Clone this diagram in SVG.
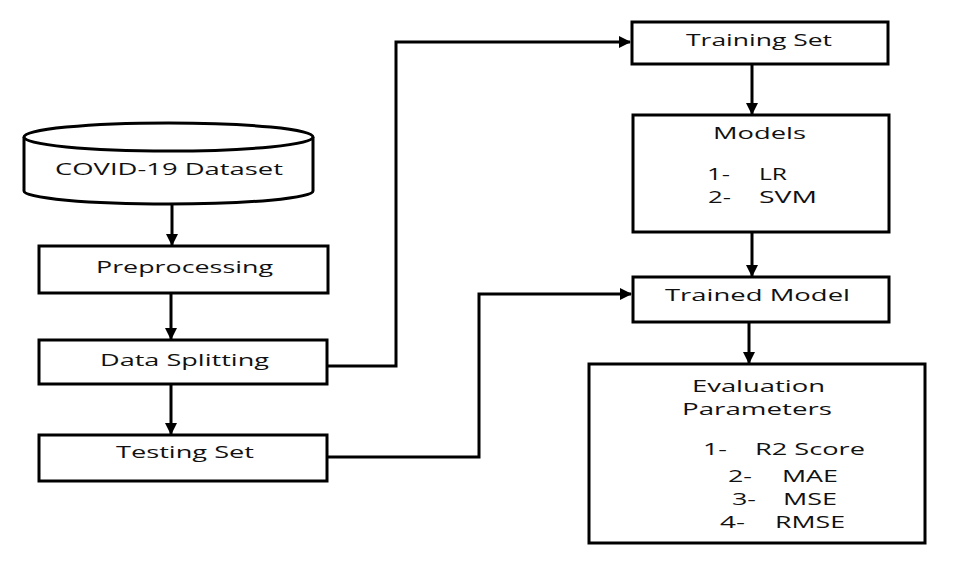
<svg xmlns="http://www.w3.org/2000/svg" width="961" height="566" viewBox="0 0 961 566">
<defs>
<marker id="ah" markerWidth="12" markerHeight="12" viewBox="0 0 12 12" refX="11" refY="6" orient="auto" markerUnits="userSpaceOnUse">
<path d="M0,0 L12,6 L0,12 Z" fill="#000"/>
</marker>
<style>
.box{fill:#fff;stroke:#000;stroke-width:3}
.t{font-family:"Open Sans","Liberation Sans",sans-serif;font-size:17px;fill:#111}
.c{fill:none;stroke:#000;stroke-width:3;marker-end:url(#ah)}
</style>
</defs>
<rect width="961" height="566" fill="#fff"/>
<g id="connectors">
<path class="c" d="M172,204 V245"/>
<path class="c" d="M171,293 V339"/>
<path class="c" d="M171,384 V434"/>
<path class="c" d="M327,366 H396 V42 H630"/>
<path class="c" d="M327,457 H479 V294 H631"/>
<path class="c" d="M752,64 V114"/>
<path class="c" d="M752,232 V276"/>
<path class="c" d="M749,322 V363"/>
</g>
<g id="dataset">
<path class="box" d="M24,137 V191 A144.5,13 0 0 0 313,191 V137"/>
<ellipse class="box" cx="168.5" cy="137" rx="144.5" ry="14"/>
<text class="t" x="55" y="175" textLength="228" lengthAdjust="spacingAndGlyphs">COVID-19 Dataset</text>
</g>
<g id="preprocessing">
<rect class="box" x="39" y="246" width="289" height="47"/>
<text class="t" x="96" y="273" textLength="177" lengthAdjust="spacingAndGlyphs">Preprocessing</text>
</g>
<g id="data-splitting">
<rect class="box" x="39" y="340" width="288" height="44"/>
<text class="t" x="100" y="366" textLength="169" lengthAdjust="spacingAndGlyphs">Data Splitting</text>
</g>
<g id="testing-set">
<rect class="box" x="39" y="435" width="288" height="46"/>
<text class="t" x="116" y="458" textLength="138" lengthAdjust="spacingAndGlyphs">Testing Set</text>
</g>
<g id="training-set">
<rect class="box" x="632" y="22" width="256" height="42"/>
<text class="t" x="686" y="46" textLength="146" lengthAdjust="spacingAndGlyphs">Training Set</text>
</g>
<g id="models">
<rect class="box" x="633" y="115" width="256" height="117"/>
<text class="t" x="713" y="139" textLength="93" lengthAdjust="spacingAndGlyphs">Models</text>
<text class="t" y="180"><tspan x="707" textLength="23" lengthAdjust="spacingAndGlyphs">1-</tspan><tspan x="759" textLength="28" lengthAdjust="spacingAndGlyphs">LR</tspan></text>
<text class="t" y="203"><tspan x="708" textLength="23" lengthAdjust="spacingAndGlyphs">2-</tspan><tspan x="759" textLength="58" lengthAdjust="spacingAndGlyphs">SVM</tspan></text>
</g>
<g id="trained-model">
<rect class="box" x="633" y="277" width="256" height="45"/>
<text class="t" x="665" y="301" textLength="185" lengthAdjust="spacingAndGlyphs">Trained Model</text>
</g>
<g id="evaluation">
<rect class="box" x="589" y="364" width="336" height="179"/>
<text class="t" x="692" y="392" textLength="133" lengthAdjust="spacingAndGlyphs">Evaluation</text>
<text class="t" x="682" y="415" textLength="150" lengthAdjust="spacingAndGlyphs">Parameters</text>
<text class="t" y="455"><tspan x="703" textLength="24" lengthAdjust="spacingAndGlyphs">1-</tspan><tspan x="755" textLength="110" lengthAdjust="spacingAndGlyphs">R2 Score</tspan></text>
<text class="t" y="482"><tspan x="728" textLength="24" lengthAdjust="spacingAndGlyphs">2-</tspan><tspan x="782" textLength="56" lengthAdjust="spacingAndGlyphs">MAE</tspan></text>
<text class="t" y="505"><tspan x="732" textLength="24" lengthAdjust="spacingAndGlyphs">3-</tspan><tspan x="783" textLength="54" lengthAdjust="spacingAndGlyphs">MSE</tspan></text>
<text class="t" y="528"><tspan x="720" textLength="25" lengthAdjust="spacingAndGlyphs">4-</tspan><tspan x="775" textLength="70" lengthAdjust="spacingAndGlyphs">RMSE</tspan></text>
</g>
</svg>
